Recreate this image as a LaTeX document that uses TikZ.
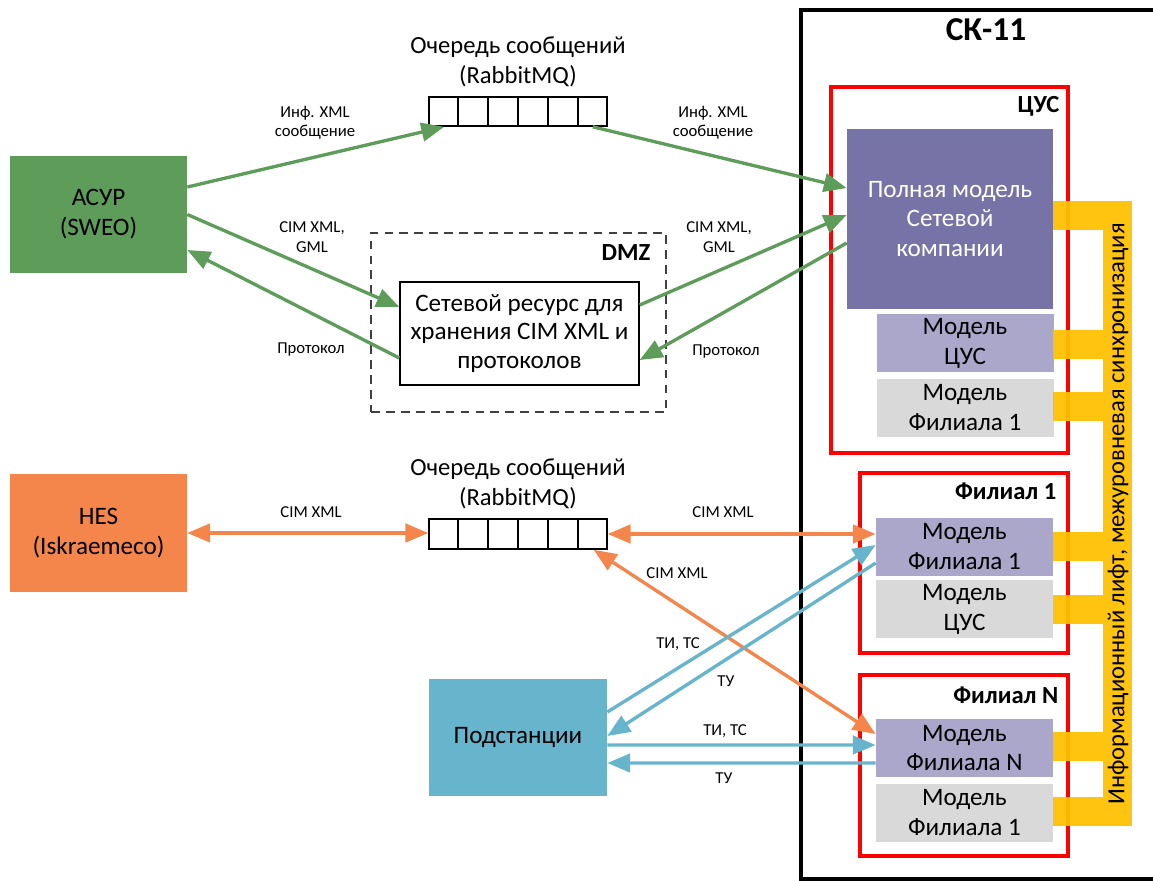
\documentclass[tikz,border=0pt]{standalone}
\usepackage{fontspec}
\setmainfont{Carlito}
\usetikzlibrary{arrows.meta,positioning,calc}
\definecolor{LeafGreen}{HTML}{5E9C59}
\definecolor{Coral}{HTML}{F4854B}
\definecolor{SkyBlue}{HTML}{67B4CD}
\definecolor{Plum}{HTML}{7773A6}
\definecolor{Lavender}{HTML}{AAA7CA}
\definecolor{Silver}{HTML}{D9D9D9}
\definecolor{Amber}{HTML}{FFC000}

\begin{document}
\begin{tikzpicture}[x=0.02cm,y=-0.02cm,
  box/.style 2 args={inner sep=0pt,minimum width=#1*0.02cm,minimum height=#2*0.02cm,
    align=center,font=\fontsize{14.3}{17}\selectfont},
  model/.style={box={177}{58}},
  zone/.style={draw=red,line width=1.9pt},
  zonetag/.style={inner sep=0pt,anchor=east,font=\fontsize{14}{17}\selectfont\bfseries},
  qtitle/.style={inner sep=0pt,align=center,font=\fontsize{14}{17}\selectfont},
  lbl/.style={align=center,inner sep=0pt,font=\fontsize{9.5}{11}\selectfont},
  flow/.style={line width=1.9pt,-{Triangle[length=13pt,width=10.5pt]}},
  twoway/.style={line width=1.9pt,{Triangle[length=13pt,width=10.5pt]}-{Triangle[length=13pt,width=10.5pt]}},
  bus/.style={fill=Amber,opacity=0.94}]
  \useasboundingbox (0,0) rectangle (1153,880);

  % CK-11 and its zones
  \node[box={359}{869},draw,line width=2pt] (sk) at (980.5,444.5) {};
  \node[font=\fontsize{19}{22}\selectfont\bfseries] (sktitle) at (986,30) {СК-11};
  \node[zone,box={237}{366}] (cus) at (949.5,270) {};
  \node[zone,box={208}{180}] (fil1) at (964,563) {};
  \node[zone,box={208}{181}] (filN) at (964,765.5) {};
  \node[zonetag] (custag) at ($(cus.north east)+(-10,21)$) {ЦУС};
  \node[zonetag] (fil1tag) at ($(fil1.north east)+(-13,20)$) {Филиал 1};
  \node[zonetag] (filNtag) at ($(filN.north east)+(-11,22)$) {Филиал N};

  % models
  \node[box={206}{180},fill=Plum,text=white] (full) at (950,219) {Полная модель\\Сетевой\\компании};
  \node[model,fill=Lavender] (cusM) at (965,343) {Модель\\ЦУС};
  \node[model,fill=Silver,below=0.12cm of cusM] (cusF1) {Модель\\Филиала 1};
  \node[model,fill=Lavender] (f1M) at (964.5,546.5) {Модель\\Филиала 1};
  \node[model,fill=Silver,below=0.08cm of f1M] (f1C) {Модель\\ЦУС};
  \node[model,fill=Lavender] (fNM) at (964.5,748) {Модель\\Филиала N};
  \node[model,fill=Silver,below=0.12cm of fNM] (fNF1) {Модель\\Филиала 1};

  % information lift
  \fill[bus] (1103,201) rectangle (1132,826);
  \foreach \y in {201,330,392,532,595,732,797}
    \fill[bus] (1053,\y) rectangle (1103,\y+29);
  \node[rotate=90,font=\fontsize{14}{17}\selectfont] (lift) at (1118,514) {Информационный лифт, межуровневая синхронизация};

  % outer systems
  \node[box={177}{117},fill=LeafGreen] (asur) at (98.5,214.5) {АСУР\\(SWEO)};
  \node[box={177}{118},fill=Coral] (hes) at (98.5,533) {HES\\(Iskraemeco)};
  \node[box={178}{117},fill=SkyBlue] (subst) at (518,737.5) {Подстанции};

  % queues
  \node[box={178}{29},draw,line width=0.9pt] (q1) at (518,111.5) {};
  \node[box={178}{30},draw,line width=0.9pt] (q2) at (518,534) {};
  \foreach \q in {q1,q2}
    \foreach \i in {1,...,5}
      \draw[line width=0.9pt] ($(\q.north west)!\i/6!(\q.north east)$) -- ($(\q.south west)!\i/6!(\q.south east)$);
  \node[qtitle,above=0.18cm of q1] (q1title) {Очередь сообщений\\(RabbitMQ)};
  \node[qtitle,above=0.18cm of q2] (q2title) {Очередь сообщений\\(RabbitMQ)};

  % DMZ
  \node[box={295}{179},draw=black!75,dash pattern=on 5pt off 3.5pt,line width=0.9pt] (dmz) at (518.5,322.5) {};
  \node[zonetag] (dmztag) at ($(dmz.north east)+(-16,20)$) {DMZ};
  \node[box={239}{103},draw,line width=0.8pt,font=\fontsize{14.3}{16}\selectfont] (store) at (519.5,333.5) {Сетевой ресурс для\\хранения CIM XML и\\протоколов};

  % green flows
  \draw[flow,LeafGreen] ($(asur.east)+(0,-27.5)$) -- ($(q1.south west)+(16,0)$);
  \draw[flow,LeafGreen] ($(q1.south east)+(-15,0)$) -- ($(full.west)+(0,-31)$);
  \draw[flow,LeafGreen] (asur.east) -- ($(store.west)+(0,-26.5)$);
  \draw[flow,LeafGreen] ($(store.west)+(0,24.5)$) -- ($(asur.east)+(0,35.5)$);
  \draw[flow,LeafGreen] ($(store.east)+(0,-28.5)$) -- ($(full.west)+(0,-4)$);
  \draw[flow,LeafGreen] ($(full.west)+(0,24)$) -- ($(store.east)+(0,26.5)$);

  % orange flows
  \draw[twoway,Coral] (hes.east) -- (hes.east -| q2.west);
  \draw[twoway,Coral] (q2.east) -- (q2.east -| f1M.west);
  \draw[twoway,Coral] ($(q2.south east)+(-14,0)$) -- ($(fNM.west)+(0,-14)$);

  % blue flows
  \draw[flow,SkyBlue] ($(subst.east)+(0,-25.5)$) -- ($(f1M.west)+(0,-1.5)$);
  \draw[flow,SkyBlue] ($(f1M.west)+(0,16.5)$) -- ($(subst.east)+(0,-1.5)$);
  \draw[flow,SkyBlue] ($(subst.east)+(0,7.5)$) -- ($(fNM.west)+(0,-3)$);
  \draw[flow,SkyBlue] ($(fNM.west)+(0,15)$) -- ($(subst.east)+(0,25.5)$);

  % labels
  \node[lbl] (l1) at (315,123) {Инф. XML\\сообщение};
  \node[lbl] (l2) at (713,123) {Инф. XML\\сообщение};
  \node[lbl] (l3) at (312,237) {CIM XML,\\GML};
  \node[lbl] (l4) at (311,349) {Протокол};
  \node[lbl] (l5) at (719,237) {CIM XML,\\GML};
  \node[lbl] (l6) at (726,351) {Протокол};
  \node[lbl] (l7) at (311,512) {CIM XML};
  \node[lbl] (l8) at (723,512) {CIM XML};
  \node[lbl] (l9) at (677,573) {CIM XML};
  \node[lbl] (l10) at (678,644) {ТИ, ТС};
  \node[lbl] (l11) at (726,681) {ТУ};
  \node[lbl] (l12) at (725,731) {ТИ, ТС};
  \node[lbl] (l13) at (724,778) {ТУ};
\end{tikzpicture}
\end{document}
